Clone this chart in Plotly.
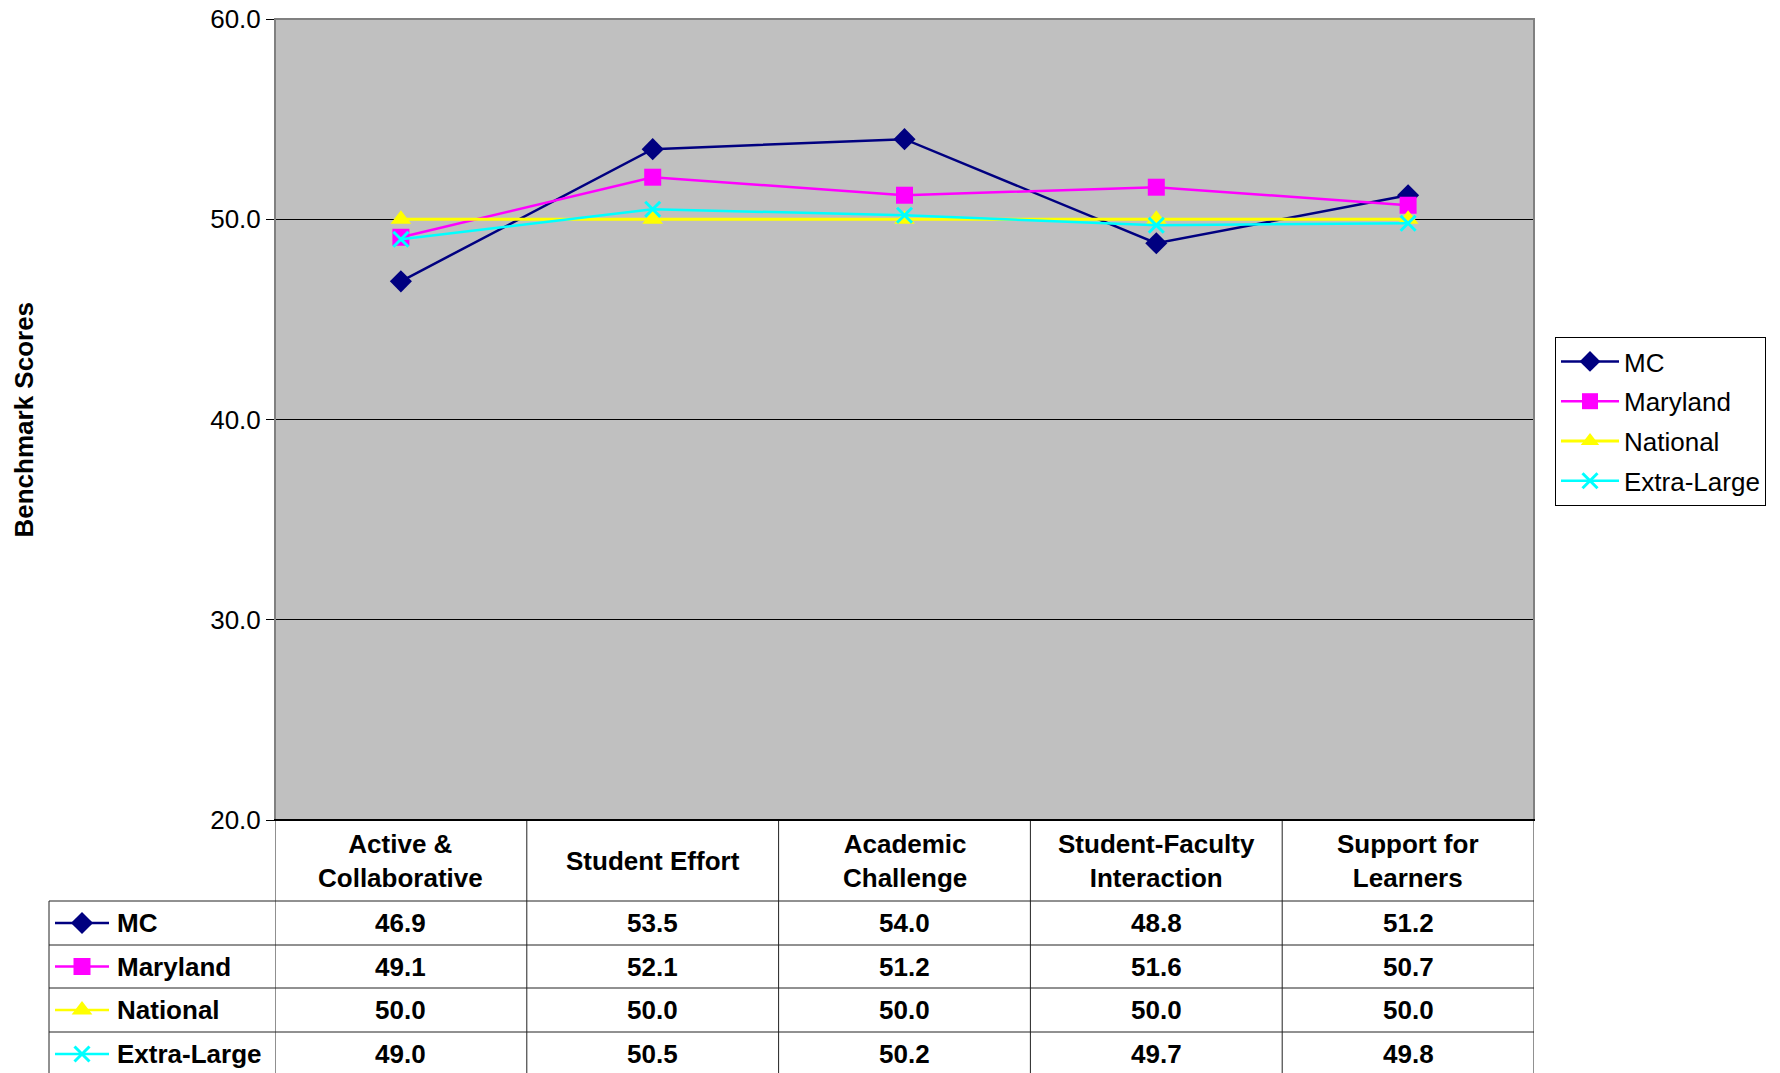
import plotly.graph_objects as go

categories = ["Active &<br>Collaborative", "Student Effort", "Academic<br>Challenge",
              "Student-Faculty<br>Interaction", "Support for<br>Learners"]
series_names = ["MC", "Maryland", "National", "Extra-Large"]
mc = [46.9, 53.5, 54.0, 48.8, 51.2]
maryland = [49.1, 52.1, 51.2, 51.6, 50.7]
national = [50.0, 50.0, 50.0, 50.0, 50.0]
extra_large = [49.0, 50.5, 50.2, 49.7, 49.8]
y_ticks = [20, 30, 40, 50, 60]

series_values = [mc, maryland, national, extra_large]
colors = ["#000080", "#FF00FF", "#FFFF00", "#00FFFF"]
symbols = ["diamond", "square", "triangle-up", "x-thin"]
msizes = [17, 17, 18, 15]
lwidths = [2.5, 2.5, 3, 2.5]

W, H = 1780, 1073
PL, PR, PT, PB = 275, 1534, 19, 820
FONT = "Liberation Sans, Arial, sans-serif"

fig = go.Figure()


def make_marker(s, c, ms):
    m = dict(symbol=s, size=ms, color=c, opacity=1)
    if s == "x-thin":
        m["line"] = dict(color=c, width=3)
    else:
        m["line"] = dict(width=0)
    return m


x_idx = list(range(len(categories)))
for name, vals, c, s, ms, lw in zip(series_names, series_values, colors, symbols, msizes, lwidths):
    fig.add_trace(go.Scatter(x=x_idx, y=vals, name=name, mode="lines+markers",
                             line=dict(color=c, width=lw), marker=make_marker(s, c, ms),
                             legendgroup=name, xaxis="x", yaxis="y"))

# table rows (in pixel overlay axes)
row_bounds = [901, 945, 988, 1032, 1076]
row_centers = [(row_bounds[i] + row_bounds[i + 1]) / 2 for i in range(4)]
for i, (name, c, s, ms) in enumerate(zip(series_names, colors, symbols, msizes)):
    yc = row_centers[i]
    fig.add_trace(go.Scatter(x=[55, 109], y=[yc, yc], mode="lines",
                             line=dict(color=c, width=2.5),
                             showlegend=False, xaxis="x2", yaxis="y2", hoverinfo="skip"))
    fig.add_trace(go.Scatter(x=[82], y=[yc], mode="markers", marker=make_marker(s, c, ms),
                             showlegend=False, xaxis="x2", yaxis="y2", hoverinfo="skip"))

shapes = []
shapes.append(dict(type="rect", xref="x domain", yref="y domain", x0=0, x1=1, y0=0, y1=1,
                   fillcolor="#C0C0C0", line=dict(width=0), layer="below"))
shapes.append(dict(type="path", xref="x domain", yref="y domain",
                   path="M 0 0 L 0 1 L 1 1 L 1 0", line=dict(color="#808080", width=2), layer="above"))
for i in range(len(categories) + 1):
    shapes.append(dict(type="line", xref="x", yref="y2", x0=i - 0.5, x1=i - 0.5,
                       y0=PB, y1=1080, line=dict(color="#222222", width=1)))
shapes.append(dict(type="line", xref="x2", yref="y2", x0=49, x1=49, y0=row_bounds[0], y1=1080,
                   line=dict(color="#222222", width=1)))
for yb in row_bounds[:-1]:
    shapes.append(dict(type="line", xref="x2", yref="y2", x0=49, x1=PR, y0=yb, y1=yb,
                       line=dict(color="#222222", width=1)))
shapes.append(dict(type="line", xref="x2", yref="y2", x0=PL - 1, x1=PR + 1, y0=PB, y1=PB,
                   line=dict(color="black", width=2)))

annotations = []
tfont = dict(family=FONT, size=26, color="black")
bfont = dict(family=FONT, size=26, color="black", weight="bold")
hdr_center = (PB + row_bounds[0]) / 2
for i, cat in enumerate(categories):
    annotations.append(dict(x=i, xref="x", y=hdr_center, yref="y2", text=cat, showarrow=False,
                            font=bfont, xanchor="center", yanchor="middle"))
for r, (name, vals) in enumerate(zip(series_names, series_values)):
    annotations.append(dict(x=115, xref="x2", y=row_centers[r], yref="y2", text=name,
                            showarrow=False, font=bfont, xanchor="left", yanchor="middle"))
    for i, v in enumerate(vals):
        annotations.append(dict(x=i, xref="x", y=row_centers[r], yref="y2", text=f"{v:.1f}",
                                showarrow=False, font=bfont, xanchor="center", yanchor="middle"))
annotations.append(dict(x=23, xref="x2", y=40, yref="y", text="Benchmark Scores", textangle=-90,
                        showarrow=False, font=bfont, xanchor="center", yanchor="middle"))

fig.update_layout(
    template="none",
    width=W, height=H, autosize=False,
    margin=dict(l=0, r=0, t=0, b=0, pad=0, autoexpand=False),
    paper_bgcolor="white", plot_bgcolor="rgba(0,0,0,0)",
    font=tfont,
    xaxis=dict(domain=[PL / W, PR / W], range=[-0.5, 4.5], showticklabels=False, showgrid=False,
               zeroline=False, showline=False, ticks="", automargin=False),
    yaxis=dict(domain=[(H - PB) / H, (H - PT) / H], range=[20, 60], tickvals=y_ticks,
               ticktext=[f"{t:.1f}" for t in y_ticks], ticks="outside", ticklen=8, tickwidth=1,
               tickcolor="black", showgrid=True, gridcolor="black", gridwidth=1, zeroline=False,
               showline=False, automargin=False,
               tickfont=dict(family=FONT, size=26, color="black")),
    xaxis2=dict(domain=[0, 1], range=[0, W], visible=False, anchor="y2", automargin=False),
    yaxis2=dict(domain=[0, 1], range=[H, 0], visible=False, anchor="x2", automargin=False),
    showlegend=True,
    legend=dict(x=1555 / W, y=1 - 337 / H, xanchor="left", yanchor="top",
                bordercolor="black", borderwidth=1, bgcolor="white", itemwidth=58,
                font=dict(family=FONT, size=26, color="black"), tracegroupgap=3),
    shapes=shapes, annotations=annotations,
)

fig.write_html("out.html", config={"displayModeBar": False},
               post_script="document.body.style.margin='0';")
